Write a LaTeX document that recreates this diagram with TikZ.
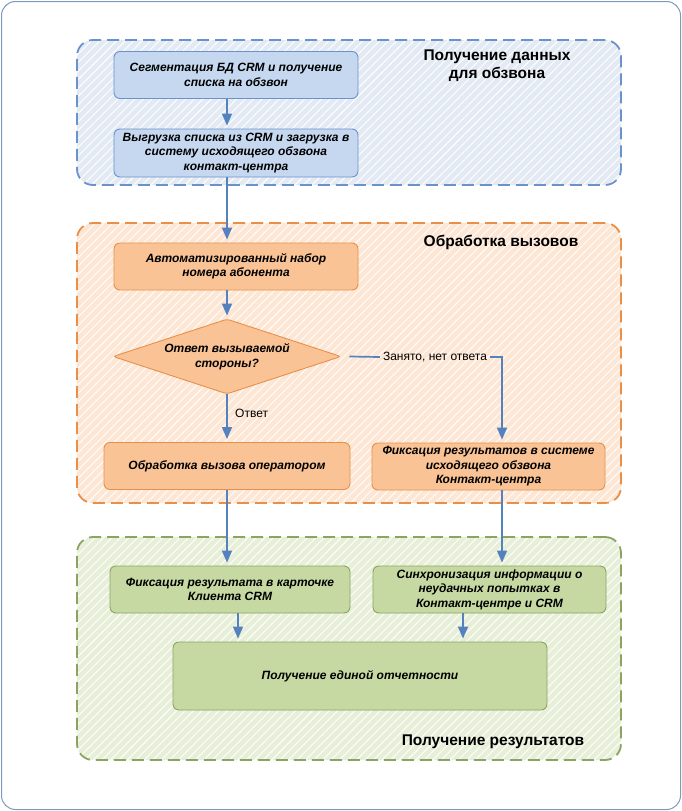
\documentclass[tikz,border=0pt]{standalone}
\usepackage{fontspec}
\setmainfont{Liberation Sans}
\usetikzlibrary{shapes.geometric, arrows.meta, patterns.meta}
\definecolor{bluefill}{HTML}{E4EAF4}
\definecolor{blueline}{HTML}{6A93CC}
\definecolor{bluebox}{HTML}{C6D8EF}
\definecolor{orgfill}{HTML}{FDE6D4}
\definecolor{orgline}{HTML}{E8904A}
\definecolor{orgbox}{HTML}{F9C396}
\definecolor{grnfill}{HTML}{E8EFD9}
\definecolor{grnline}{HTML}{8AA562}
\definecolor{grnbox}{HTML}{C6D9A2}
\definecolor{arrcol}{HTML}{5582BE}
\definecolor{framecol}{HTML}{7E9AB8}

\begin{document}
\begin{tikzpicture}[x=1pt, y=-1pt,
  every node/.style={inner sep=3pt, align=center, font=\bfseries\itshape\fontsize{12}{14.5}\selectfont},
  zone/.style={draw=#1line, line width=1.8pt, dash pattern=on 12pt off 6pt, rounded corners=16pt,
    preaction={fill=#1fill}, pattern={Lines[angle=45,distance=6pt,line width=0.9pt]}, pattern color=white,
    minimum width=544pt},
  box/.style={draw=#1line, fill=#1box, line width=0.9pt, rounded corners=6pt, minimum height=47pt},
  title/.style={font=\bfseries\fontsize{15.5}{18}\selectfont},
  note/.style={font=\fontsize{12}{14}\selectfont},
  arr/.style={draw=arrcol, line width=1.7pt, -{Triangle[length=12pt,width=10pt]}, shorten >=3pt}
]
\useasboundingbox (0,0) rectangle (682,811);
\draw[framecol, line width=1pt, rounded corners=14pt] (1.5,1.5) rectangle (680.5,809.5);

\node[zone=blue, minimum height=145pt] (data) at (349,112.5) {};
\node[zone=org, minimum height=280pt] (calls) at (349,363) {};
\node[zone=grn, minimum height=223pt] (result) at (349,648.5) {};

\node[box=blue, minimum width=244pt] (seg) at (236,75) {Сегментация БД CRM и получение\\списка на обзвон};
\node[box=blue, minimum width=244pt, minimum height=48pt] (load) at (236,153) {Выгрузка списка из CRM и загрузка в\\систему исходящего обзвона\\контакт-центра};
\node[title] (t1) at (497,66) {Получение данных\\для обзвона};

\node[box=org, minimum width=244pt] (dial) at (236,266.5) {Автоматизированный набор\\номера абонента};
\node[title] (t2) at (501,242) {Обработка вызовов};
\node[diamond, shape aspect=3, draw=orgline, fill=orgbox, line width=0.9pt, inner sep=0pt,
  minimum width=228pt, minimum height=75pt, rounded corners=3pt] (ans) at (227,356.5) {Ответ вызываемой\\стороны?};
\node[box=org, minimum width=246pt] (oper) at (227,466) {Обработка вызова оператором};
\node[box=org, minimum width=233pt] (fix) at (488.5,466.5) {Фиксация результатов в системе\\исходящего обзвона\\Контакт-центра};
\node[note] (busy) at (435,357) {Занято, нет ответа};
\node[note, anchor=west] (yes) at (232,413) {Ответ};

\node[box=grn, minimum width=240pt] (card) at (230,589.5) {Фиксация результата в карточке\\Клиента CRM};
\node[box=grn, minimum width=233pt] (sync) at (489.5,589.5) {Синхронизация информации о\\неудачных попытках в\\Контакт-центре и CRM};
\node[box=grn, minimum width=374pt, minimum height=68pt] (rep) at (360,676) {Получение единой отчетности};
\node[title] (t3) at (493,742) {Получение результатов};

\draw[arr] ([xshift=-9pt]seg.south) -- ([xshift=-9pt]load.north);
\draw[arr] ([xshift=-9pt]load.south) -- ([xshift=-9pt]dial.north);
\draw[arr] ([xshift=-9pt]dial.south) -- (ans.north);
\draw[arr] (ans.south) -- (oper.north);
\draw[arrcol, line width=1.7pt] ([xshift=8pt]ans.east) -- (busy.west);
\draw[arr] (busy.east) -| ([xshift=13.5pt]fix.north);
\draw[arr] (oper.south) -- ([xshift=-3pt]card.north);
\draw[arr] ([xshift=13.5pt]fix.south) -- ([xshift=12.5pt]sync.north);
\draw[arr] ([xshift=8pt]card.south) -- ([xshift=-122pt]rep.north);
\draw[arr] ([xshift=-26.5pt]sync.south) -- ([xshift=103pt]rep.north);
\end{tikzpicture}
\end{document}
